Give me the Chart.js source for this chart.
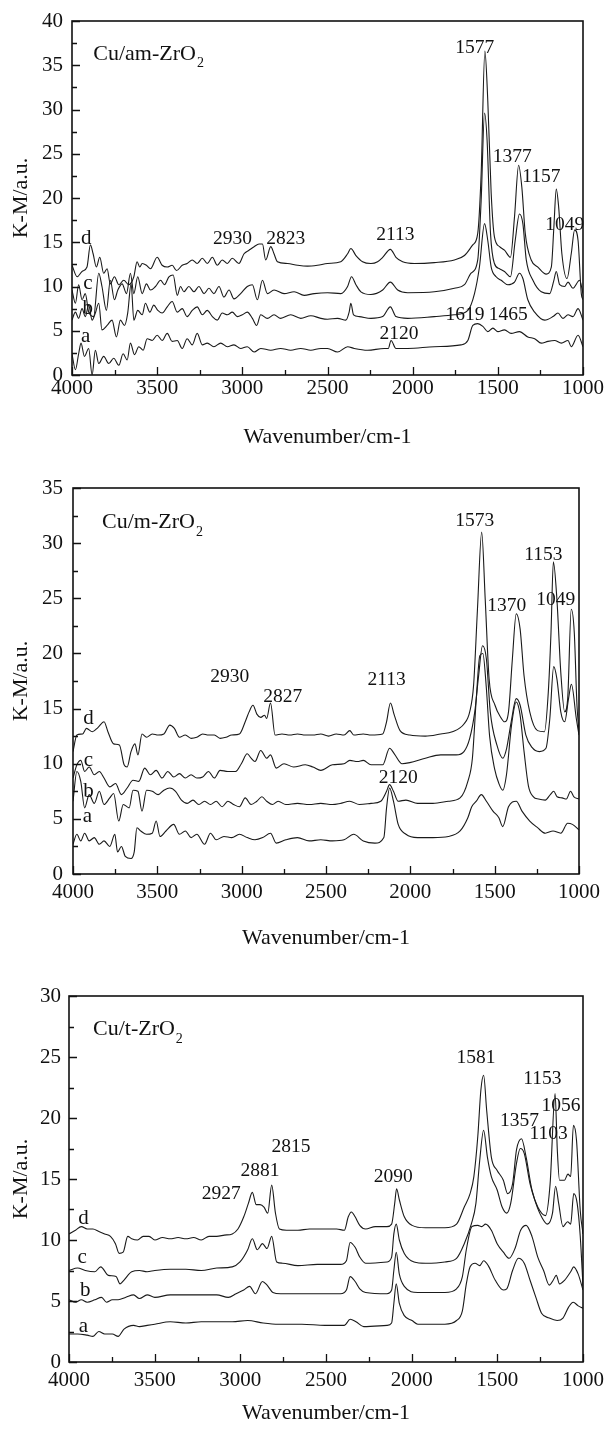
<!DOCTYPE html>
<html>
<head>
<meta charset="utf-8">
<script src="https://cdn.jsdelivr.net/npm/chart.js@4.4.1/dist/chart.umd.min.js"></script>
<style>
  body { margin: 0; background: #fff; width: 605px; height: 1430px; position: relative; overflow: hidden; }
  .panel { position: absolute; left: 0; }
</style>
</head>
<body>
<div class="panel" style="top:0px"><canvas id="chartAm" width="605" height="455"></canvas></div>
<div class="panel" style="top:455px"><canvas id="chartM" width="605" height="505"></canvas></div>
<div class="panel" style="top:960px"><canvas id="chartT" width="605" height="470"></canvas></div>
<script>
/* DRIFTS spectra of Cu/ZrO2 samples - three stacked panels */

// ---- axis ticks ----
const xTicks = [4000, 3500, 3000, 2500, 2000, 1500, 1000];
const yTicksAm = [0, 5, 10, 15, 20, 25, 30, 35, 40];
const yTicksM = [0, 5, 10, 15, 20, 25, 30, 35];
const yTicksT = [0, 5, 10, 15, 20, 25, 30];

// ---- Cu/am-ZrO2 : [wavenumber, K-M] ----
const amA = [[4000,2.4],[3980,0.6],[3961,2.4],[3947,3.6],[3927,2.1],[3902,3],[3882,0],[3863,2.8],[3843,1.3],[3814,2.1],[3784,1.3],[3755,1.9],[3725,1.1],[3700,2.4],[3676,1.7],[3657,3.6],[3633,2.3],[3608,3.2],[3582,2.8],[3559,4.1],[3529,3.9],[3500,4.5],[3471,3.9],[3441,4.7],[3412,3.8],[3382,3.9],[3353,3],[3324,4.1],[3294,3.4],[3265,4.7],[3235,3.4],[3206,3.6],[3167,3.2],[3127,3.6],[3088,3.2],[3049,3.4],[3010,3],[2971,3.2],[2931,2.6],[2892,3],[2833,2.8],[2775,3],[2716,2.8],[2657,3],[2598,2.8],[2539,3],[2500,3],[2441,2.6],[2382,3.2],[2343,3],[2265,2.8],[2167,3],[2143,3],[2127,3.9],[2098,3],[2029,3],[1873,3.2],[1716,3.4],[1676,3.9],[1647,5.6],[1618,5.8],[1588,5.5],[1559,4.9],[1529,5.3],[1500,4.9],[1461,5.1],[1422,4.7],[1373,4.9],[1324,4.3],[1284,4.1],[1245,3.6],[1206,3.8],[1167,3.9],[1127,3.6],[1088,3.9],[1069,3.2],[1029,4.5],[1000,3.2]];
const amB = [[4000,6.2],[3980,7.1],[3961,6.4],[3941,7.5],[3922,6.6],[3902,7.9],[3882,6.2],[3863,7],[3843,8.1],[3824,5.1],[3794,5.6],[3765,6.2],[3739,4.3],[3716,6.2],[3692,5.6],[3673,7],[3653,10.3],[3637,6.2],[3614,7.3],[3588,6.8],[3569,8.1],[3543,7.1],[3520,7.9],[3496,7.3],[3471,7],[3441,7.7],[3412,8.3],[3382,7.1],[3353,7.5],[3324,6.6],[3294,7.3],[3265,7.7],[3235,6.8],[3206,7.3],[3176,6.6],[3147,6.2],[3118,7],[3088,6.8],[3059,7.1],[3029,6.6],[3000,6.8],[2971,7.1],[2941,6.4],[2916,5.6],[2892,6.8],[2853,6.4],[2814,6.8],[2775,6.4],[2716,6.8],[2657,6.4],[2598,6.7],[2539,6.4],[2500,6.3],[2441,6.4],[2392,6.2],[2373,7.1],[2363,8.1],[2347,6.8],[2314,6.6],[2245,6.4],[2176,6.6],[2131,7.7],[2098,6.6],[2029,6.4],[1873,6.6],[1755,6.8],[1676,7.3],[1637,9.2],[1608,12.2],[1578,17.1],[1559,15.2],[1539,12.2],[1510,11.1],[1480,10.7],[1441,10.2],[1402,10.5],[1373,11.5],[1353,10.9],[1324,8.5],[1284,7.1],[1225,6.2],[1176,6.6],[1147,7],[1118,6.4],[1088,6.8],[1059,6.6],[1029,7.5],[1000,6.2]];
const amC = [[4000,9.6],[3980,8.1],[3961,10.2],[3941,8.5],[3922,9.2],[3902,7.1],[3873,6.6],[3843,11.5],[3824,10],[3798,7.3],[3775,10.7],[3751,8.5],[3731,9.6],[3706,10.3],[3680,9.2],[3657,11.5],[3637,9.2],[3614,11.1],[3588,9.2],[3563,10.3],[3539,9.6],[3510,10],[3480,10.7],[3457,10.2],[3431,11.1],[3406,11.3],[3382,9],[3363,10],[3343,9.4],[3314,10],[3284,9.4],[3255,10],[3225,9.2],[3196,9.8],[3167,9.2],[3137,10],[3108,8.8],[3078,9.6],[3049,8.6],[3010,9.2],[2971,10],[2941,10.2],[2912,8.5],[2882,10.7],[2853,9.2],[2814,9.6],[2755,9.2],[2696,9.4],[2637,9],[2578,9.2],[2500,9.3],[2422,9.2],[2382,10],[2359,11.1],[2333,10.2],[2304,9.4],[2245,9.1],[2176,9.6],[2131,10.5],[2088,9.6],[2029,9.3],[1873,9.4],[1755,9.8],[1696,10.2],[1657,11.5],[1618,13],[1598,19.7],[1578,29.6],[1563,26.5],[1543,16],[1520,12.6],[1490,12],[1461,11.7],[1426,11.1],[1398,15.2],[1373,18.2],[1353,17.1],[1333,13],[1294,10.7],[1245,9.4],[1196,9.2],[1171,10.7],[1157,11.7],[1137,10.2],[1108,10],[1088,10.5],[1059,9.8],[1020,10.7],[1000,9.2]];
const amD = [[4000,12.4],[3970,11.1],[3941,11.7],[3912,12.2],[3892,14.7],[3876,13.7],[3857,12.2],[3837,13.3],[3814,11.5],[3794,12],[3775,10.3],[3751,11.1],[3725,10.2],[3696,10.7],[3667,10.2],[3637,11.1],[3618,12.8],[3602,12.2],[3588,12.6],[3563,12.4],[3539,12],[3500,13.3],[3471,12.4],[3441,12.2],[3412,12.4],[3386,11.8],[3353,12.4],[3324,12.6],[3294,13],[3265,12.6],[3235,13.2],[3206,12.6],[3176,13.3],[3147,12.4],[3118,13],[3088,12.6],[3059,13.2],[3020,12.6],[2990,13.7],[2961,14.1],[2931,14.5],[2902,14.8],[2882,14.8],[2863,13],[2833,14.5],[2814,13.7],[2794,12.8],[2735,12.6],[2676,12.4],[2618,12.3],[2559,12.4],[2500,12.6],[2422,12.8],[2382,13.7],[2363,14.3],[2333,13.5],[2294,12.8],[2245,12.6],[2206,12.8],[2176,13.3],[2131,14.2],[2098,13.3],[2059,12.8],[1990,12.6],[1873,12.7],[1755,13],[1696,13.5],[1647,14.7],[1618,16],[1598,22.7],[1576,36.6],[1559,31],[1539,20.5],[1520,15.6],[1490,14.5],[1461,14.1],[1426,13.3],[1402,17.9],[1378,23.7],[1359,21.2],[1339,16],[1304,13],[1265,12.2],[1216,11.4],[1186,12.2],[1171,16.7],[1157,21],[1143,19],[1124,13.7],[1094,10.9],[1069,13.7],[1049,16.4],[1029,15.2],[1010,9.2],[1000,8.5]];

// ---- Cu/m-ZrO2 ----
const mA = [[4000,2.7],[3977,3.6],[3954,3],[3931,3.7],[3904,3],[3874,3.3],[3844,2.7],[3816,3],[3782,2.5],[3752,3.6],[3736,2],[3713,2.5],[3690,1.6],[3656,1.4],[3637,2],[3621,4.2],[3598,3.9],[3564,3.6],[3530,3.7],[3507,4.8],[3484,3.4],[3449,3.9],[3403,4.5],[3369,3.6],[3334,3.9],[3300,3.3],[3266,3.6],[3220,2.7],[3185,3.7],[3151,3.1],[3105,3.4],[3059,3.3],[3013,3.6],[2967,3.3],[2921,3.1],[2875,3.3],[2829,3.7],[2795,2.8],[2738,3.1],[2669,3.3],[2600,3],[2531,3.1],[2462,3],[2393,3.1],[2336,3.6],[2279,3],[2210,2.8],[2157,3.3],[2141,6],[2123,7.8],[2100,6.6],[2072,4.5],[2026,3.6],[1957,3.3],[1866,3.3],[1774,3.4],[1705,3.9],[1659,5.1],[1636,6.1],[1609,6.6],[1579,7.2],[1549,6.6],[1510,5.7],[1475,5.1],[1452,4.3],[1418,6.1],[1372,6.6],[1338,5.7],[1292,4.8],[1246,4.2],[1200,3.7],[1154,3.9],[1108,3.7],[1067,4.6],[1039,4.5],[1000,4]];
const mB = [[4000,6.6],[3977,9.3],[3954,8.4],[3931,6],[3904,7.2],[3874,6.4],[3844,7.5],[3816,6.3],[3782,6.9],[3759,7.3],[3729,4.8],[3702,6.3],[3667,6],[3644,7.6],[3615,7.5],[3591,5.7],[3564,7.6],[3530,7.5],[3495,7.2],[3461,7.6],[3426,7.8],[3392,7.5],[3357,6.7],[3323,6.4],[3289,6.7],[3254,6.3],[3220,6.6],[3185,6.3],[3151,6.6],[3116,6.1],[3082,6.6],[3048,6.3],[3013,6.1],[2979,6.9],[2944,6.3],[2910,6.6],[2880,7],[2852,6.6],[2818,6.3],[2784,6.6],[2738,6.3],[2669,6.4],[2600,6.3],[2531,6.4],[2462,6.3],[2416,6.4],[2359,6.6],[2302,6.3],[2233,6.4],[2175,6.6],[2141,7.5],[2123,8.1],[2100,7.5],[2072,6.6],[2026,6.7],[1957,6.4],[1866,6.4],[1774,6.6],[1705,6.9],[1659,8.4],[1632,10.5],[1609,15.9],[1588,19.8],[1570,20],[1550,17],[1530,12.5],[1500,9.5],[1475,8.2],[1452,7.6],[1430,9],[1400,13.5],[1372,15.6],[1350,14.5],[1325,11],[1300,8],[1270,7],[1240,6.8],[1200,6.7],[1170,7.2],[1150,7.5],[1130,7],[1100,6.9],[1075,6.8],[1050,7.5],[1030,7],[1000,6.8]];
const mC = [[4000,8.7],[3977,9.9],[3954,10.3],[3931,9.3],[3904,9.7],[3874,9],[3844,9.3],[3816,8.7],[3782,7.9],[3748,8.2],[3713,7.2],[3679,7.8],[3644,8.5],[3610,8.4],[3575,9.6],[3541,9],[3507,9.4],[3472,8.7],[3438,9.3],[3403,8.8],[3369,9.1],[3334,8.7],[3300,9],[3266,8.7],[3231,8.8],[3197,9.3],[3162,8.7],[3128,9.4],[3082,9.3],[3036,9.3],[3002,10],[2967,10.9],[2944,10.5],[2921,10.2],[2887,11.2],[2852,10.5],[2829,10.8],[2795,9.6],[2749,10],[2692,9.7],[2623,9.9],[2577,9.7],[2531,9.4],[2462,9.9],[2393,10],[2359,10.3],[2313,10.2],[2279,10.3],[2233,9.9],[2164,9.9],[2123,11.4],[2095,10.9],[2049,10],[2003,10.1],[1911,10.5],[1820,10.8],[1728,10.8],[1682,11.1],[1648,12.3],[1618,14.7],[1595,18],[1572,20.7],[1549,19.5],[1526,14.7],[1487,11.7],[1452,10.5],[1429,11.4],[1402,13.8],[1372,15.9],[1349,15.3],[1315,12.6],[1280,11.5],[1235,11.1],[1196,11.4],[1173,14.1],[1150,18.8],[1131,17.7],[1108,14.7],[1085,13.8],[1062,15.9],[1045,17.2],[1016,14.1],[1000,12.6]];
const mD = [[4000,11.1],[3977,12.6],[3943,12.7],[3920,13.2],[3885,12.9],[3851,13.3],[3816,13.8],[3793,12.9],[3759,11.8],[3725,11.7],[3697,9.9],[3679,9.7],[3656,11.1],[3633,11.8],[3615,10.8],[3591,12.7],[3564,12.4],[3530,12.7],[3495,12.6],[3461,12.7],[3426,13.5],[3399,13.2],[3369,12.4],[3334,12.6],[3300,12.3],[3266,12.4],[3231,12.7],[3197,12.6],[3162,12.6],[3128,12.3],[3093,12.4],[3059,12.6],[3013,12.7],[2979,13.8],[2956,14.7],[2933,15.3],[2910,14.5],[2887,14.2],[2864,14.4],[2852,14.1],[2829,15.5],[2802,12.6],[2761,12.7],[2715,12.6],[2669,12.7],[2623,12.6],[2577,12.6],[2531,12.7],[2485,12.5],[2439,12.7],[2393,12.6],[2359,13],[2336,12.6],[2279,12.7],[2233,12.6],[2164,12.7],[2141,13.8],[2118,15.5],[2095,14.4],[2061,13],[2003,12.6],[1911,12.5],[1820,12.7],[1751,12.9],[1682,13.6],[1648,14.7],[1625,17.1],[1602,24],[1577,31],[1556,24.9],[1533,17.7],[1498,15.3],[1464,14.2],[1441,13.8],[1418,14.7],[1395,19.5],[1372,23.6],[1349,22.2],[1326,18],[1292,14.7],[1246,13],[1205,12.9],[1182,16.5],[1166,21.9],[1152,28.3],[1131,24.9],[1108,18.3],[1085,14.7],[1067,15.9],[1046,24],[1028,21.9],[1012,15.3],[1000,12.9]];

// ---- Cu/t-ZrO2 ----
const tA = [[4000,2.3],[3950,2.3],[3894,2.2],[3860,2.1],[3826,2.5],[3792,2.3],[3747,2.3],[3713,2.1],[3679,2.7],[3623,3],[3589,2.9],[3544,3],[3499,3.1],[3409,3.3],[3318,3.2],[3228,3.3],[3138,3.3],[3047,3.3],[2957,3.4],[2867,3.2],[2777,3.1],[2641,3.1],[2506,3],[2393,3],[2359,3.5],[2325,3.3],[2280,2.9],[2144,3],[2117,3.2],[2104,4.8],[2090,6.4],[2072,4.8],[2043,3.8],[1998,3.4],[1964,3.1],[1806,3.1],[1738,3.4],[1704,4.2],[1681,6.4],[1659,7.8],[1630,8.1],[1603,7.9],[1580,8.3],[1553,7.9],[1512,6.7],[1465,5.9],[1445,6],[1411,7.5],[1377,8.5],[1343,8.1],[1309,6.7],[1275,5.3],[1242,4],[1197,3.6],[1151,3.4],[1117,3.6],[1084,4.5],[1057,4.9],[1028,4.6],[1000,4.4]];
const tB = [[4000,5.1],[3962,4.9],[3928,5.1],[3894,4.9],[3849,5.1],[3810,5.3],[3781,4.9],[3747,5.1],[3713,5.1],[3668,5.3],[3623,5.5],[3589,5.2],[3544,5.5],[3499,5.3],[3409,5.5],[3318,5.5],[3228,5.5],[3138,5.5],[3070,5.3],[3025,5.6],[2980,5.9],[2946,6.2],[2912,5.6],[2871,6.6],[2844,6.3],[2810,5.7],[2765,5.6],[2664,5.6],[2528,5.6],[2415,5.6],[2381,5.9],[2359,7],[2330,6.6],[2303,6],[2269,5.7],[2144,5.6],[2117,5.9],[2104,7.5],[2090,9],[2072,7.2],[2043,6.2],[1964,5.7],[1806,5.7],[1738,6],[1704,7],[1681,9.2],[1648,11.1],[1614,11.2],[1591,11.1],[1569,11.3],[1535,10.8],[1501,9.7],[1465,9],[1431,8.5],[1397,9.3],[1364,10.8],[1332,11.2],[1298,10.3],[1264,8.6],[1230,7.5],[1197,6.3],[1174,6.7],[1156,7.1],[1137,6.4],[1108,6.7],[1072,7.4],[1054,7.8],[1028,7.2],[1000,5.9]];
const tC = [[4000,7.5],[3950,7.7],[3905,7.5],[3849,7.4],[3815,7.8],[3770,7.1],[3725,7],[3702,6.4],[3680,6.7],[3634,7.4],[3589,7.5],[3544,7.4],[3499,7.5],[3409,7.6],[3318,7.6],[3228,7.5],[3138,7.7],[3047,7.8],[3002,8.2],[2957,9.2],[2930,10.1],[2901,9.2],[2871,9.7],[2844,9.3],[2817,10.3],[2788,8.2],[2754,8.1],[2664,7.9],[2551,8],[2415,8],[2381,8.3],[2359,9.8],[2330,9.4],[2303,8.6],[2269,8.1],[2144,8.2],[2117,8.6],[2104,10.5],[2090,11.3],[2072,10],[2043,8.9],[1986,8.2],[1919,8.1],[1806,8.2],[1738,8.5],[1693,9.7],[1652,11.3],[1625,13],[1603,16.5],[1580,19],[1558,16.8],[1535,15.2],[1501,14.1],[1472,12.7],[1445,12.2],[1422,13],[1388,16.3],[1366,17.5],[1343,17.1],[1309,14.6],[1275,13],[1242,11.9],[1208,11.3],[1178,12.2],[1160,14.4],[1142,13],[1117,11.1],[1090,11.5],[1072,11.3],[1054,13.8],[1034,13],[1016,10.3],[1000,6.2]];
const tD = [[4000,10.5],[3962,10.8],[3928,11.1],[3894,10.9],[3860,10.9],[3826,10.7],[3792,10.5],[3758,10.3],[3729,9.7],[3707,8.9],[3684,9],[3657,10.3],[3634,10.1],[3600,10],[3567,10.3],[3533,10.3],[3499,10],[3454,10.2],[3409,10.1],[3363,10.2],[3318,10.1],[3273,10.2],[3228,10],[3183,10.3],[3138,10.3],[3093,10.4],[3047,10.5],[3014,10.9],[2980,11.9],[2953,13],[2930,13.9],[2907,12.9],[2885,12.9],[2862,12.7],[2840,12.2],[2817,14.5],[2795,12.2],[2772,10.9],[2731,10.8],[2664,10.8],[2596,10.9],[2528,10.9],[2438,10.9],[2393,10.8],[2370,11.9],[2352,12.3],[2330,11.9],[2303,11.2],[2269,10.9],[2212,11.1],[2144,11.1],[2117,11.3],[2099,13],[2088,14.2],[2072,13.3],[2043,11.9],[1998,11.2],[1919,11],[1806,11],[1738,11.3],[1693,12.7],[1659,13.8],[1637,15.2],[1614,18.5],[1596,22.3],[1580,23.5],[1562,20.6],[1535,16.8],[1501,15.7],[1465,14.9],[1440,13.8],[1411,14.6],[1388,17.4],[1359,18.3],[1332,16.8],[1298,14.1],[1264,12.7],[1219,12],[1192,14.6],[1163,22],[1150,17.4],[1137,14.9],[1108,14.9],[1088,15.4],[1072,15.2],[1056,19.4],[1038,18.2],[1016,12.4],[1000,10.5]];

// ---- annotations: [text, wavenumber, K-M] ----
const amPeaks = [['1577',1636,37.0],['1377',1416,24.6],['1157',1245,22.4],['1049',1107,17.0],['2930',3057,15.4],['2823',2745,15.4],['2113',2102,15.8],['2120',2080,4.7],['1619',1693,6.8],['1465',1439,6.8]];
const amCurveTags = [['d',3916,15.4],['c',3907,10.3],['b',3907,7.5],['a',3920,4.3]];
const mPeaks = [['1573',1618,32.0],['1153',1211,28.9],['1370',1429,24.3],['1049',1138,24.9],['2930',3070,17.9],['2827',2756,16.1],['2113',2141,17.6],['2120',2072,8.7]];
const mCurveTags = [['d',3908,14.1],['c',3908,10.3],['b',3908,7.5],['a',3915,5.2]];
const tPeaks = [['1581',1625,24.9],['1153',1237,23.2],['1056',1129,21.0],['1357',1370,19.8],['1103',1201,18.7],['2815',2704,17.6],['2881',2885,15.7],['2927',3111,13.8],['2090',2108,15.2]];
const tCurveTags = [['d',3916,11.8],['c',3923,8.6],['b',3905,5.9],['a',3916,2.9]];

const serif = '"Liberation Serif", "Times New Roman", serif';
const ink = '#111';

// frame, inward ticks and text labels
const decorPlugin = {
    id: 'decor',
    afterDraw(chart) {
        const { ctx, chartArea: a, scales: { x, y } } = chart;
        const o = chart.options.plugins.decor;
        ctx.save();
        ctx.strokeStyle = ink;
        ctx.lineWidth = 1.6;
        ctx.strokeRect(a.left, a.top, a.right - a.left, a.bottom - a.top);

        ctx.lineWidth = 1.3;
        ctx.beginPath();
        for (let v = 1000; v <= 4000; v += 250) {
            const px = Math.round(x.getPixelForValue(v)) + 0.5;
            const len = v % 500 === 0 ? 8 : 5;
            ctx.moveTo(px, a.bottom);
            ctx.lineTo(px, a.bottom - len);
        }
        for (let v = 0; v <= y.max; v += 2.5) {
            const py = Math.round(y.getPixelForValue(v)) + 0.5;
            const len = v % 5 === 0 ? 8 : 5;
            ctx.moveTo(a.left, py);
            ctx.lineTo(a.left + len, py);
        }
        ctx.stroke();

        ctx.fillStyle = ink;
        ctx.textBaseline = 'middle';
        ctx.textAlign = 'center';
        ctx.font = '19.5px ' + serif;
        o.peaks.forEach(([t, wn, v]) => {
            ctx.fillText(t, x.getPixelForValue(wn), y.getPixelForValue(v));
        });
        ctx.font = '21px ' + serif;
        o.tags.forEach(([t, wn, v]) => {
            ctx.fillText(t, x.getPixelForValue(wn), y.getPixelForValue(v));
        });

        // sample title with subscript
        const [main, sub, wn, v] = o.title;
        const tx = x.getPixelForValue(wn), ty = y.getPixelForValue(v);
        ctx.textAlign = 'left';
        ctx.font = '22px ' + serif;
        ctx.fillText(main, tx, ty);
        const w = ctx.measureText(main).width;
        ctx.font = '14px ' + serif;
        ctx.fillText(sub, tx + w + 1, ty + 10);
        ctx.restore();
    }
};

function makePanel(id, curves, yTicks, p) {
    return new Chart(document.getElementById(id), {
        type: 'line',
        data: {
            datasets: curves.map(pts => ({
                data: pts.map(([wn, v]) => ({ x: wn, y: v })),
                borderColor: '#1a1a1a',
                borderWidth: 1.1,
                pointRadius: 0,
                tension: 0.4,
                cubicInterpolationMode: 'monotone'
            }))
        },
        options: {
            responsive: false,
            animation: false,
            events: [],
            layout: { padding: { top: p.top, right: p.right, left: 0, bottom: 0 } },
            plugins: {
                legend: { display: false },
                tooltip: { enabled: false },
                decor: { peaks: p.peaks, tags: p.tags, title: p.title }
            },
            scales: {
                x: {
                    type: 'linear',
                    reverse: true,
                    min: 1000,
                    max: 4000,
                    grid: { display: false, drawTicks: false },
                    border: { display: false },
                    afterBuildTicks: s => { s.ticks = xTicks.map(v => ({ value: v })); },
                    afterFit: s => { s.height = p.xHeight; s.paddingLeft = 0; s.paddingRight = 0; },
                    ticks: {
                        autoSkip: false,
                        maxRotation: 0,
                        padding: p.xTickPad,
                        color: ink,
                        font: { family: serif, size: 21 },
                        callback: v => String(v)
                    },
                    title: {
                        display: true,
                        text: 'Wavenumber/cm-1',
                        color: ink,
                        font: { family: serif, size: 22 },
                        padding: { top: 0, bottom: p.xTitlePad }
                    }
                },
                y: {
                    type: 'linear',
                    min: 0,
                    max: yTicks[yTicks.length - 1],
                    grid: { display: false, drawTicks: false },
                    border: { display: false },
                    afterBuildTicks: s => { s.ticks = yTicks.map(v => ({ value: v })); },
                    afterFit: s => { s.width = p.yWidth; s.paddingTop = 0; s.paddingBottom = 0; },
                    ticks: {
                        padding: p.yTickPad,
                        color: ink,
                        font: { family: serif, size: 21 },
                        callback: v => String(v)
                    },
                    title: {
                        display: true,
                        text: 'K-M/a.u.',
                        color: ink,
                        font: { family: serif, size: 22 },
                        padding: { top: 8, bottom: 0 }
                    }
                }
            }
        },
        plugins: [decorPlugin]
    });
}

makePanel('chartAm', [amA, amB, amC, amD], yTicksAm, {
    top: 21, right: 22, yWidth: 72, xHeight: 80, xTickPad: 1, xTitlePad: 5, yTickPad: 9,
    peaks: amPeaks, tags: amCurveTags, title: ['Cu/am-ZrO', '2', 3875, 36.3]
});
makePanel('chartM', [mA, mB, mC, mD], yTicksM, {
    top: 33, right: 26, yWidth: 73, xHeight: 86, xTickPad: 6, xTitlePad: 9, yTickPad: 10,
    peaks: mPeaks, tags: mCurveTags, title: ['Cu/m-ZrO', '2', 3828, 31.9]
});
makePanel('chartT', [tA, tB, tC, tD], yTicksT, {
    top: 36, right: 22, yWidth: 69, xHeight: 68, xTickPad: 6, xTitlePad: 4, yTickPad: 8,
    peaks: tPeaks, tags: tCurveTags, title: ['Cu/t-ZrO', '2', 3860, 27.3]
});
</script>
</body>
</html>
